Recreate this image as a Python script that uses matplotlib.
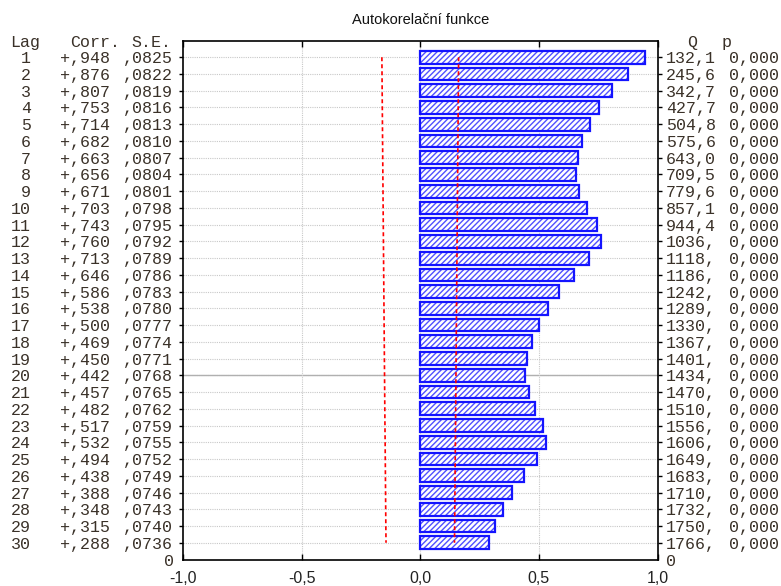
import matplotlib
matplotlib.use("Agg")
import matplotlib.pyplot as plt
import matplotlib.transforms as mtransforms
import numpy as np

# Autocorrelation results per lag
lags = list(range(1, 31))
corr = [0.948, 0.876, 0.807, 0.753, 0.714, 0.682, 0.663, 0.656, 0.671, 0.703,
        0.743, 0.760, 0.713, 0.646, 0.586, 0.538, 0.500, 0.469, 0.450, 0.442,
        0.457, 0.482, 0.517, 0.532, 0.494, 0.438, 0.388, 0.348, 0.315, 0.288]
se = [0.0825, 0.0822, 0.0819, 0.0816, 0.0813, 0.0810, 0.0807, 0.0804, 0.0801, 0.0798,
      0.0795, 0.0792, 0.0789, 0.0786, 0.0783, 0.0780, 0.0777, 0.0774, 0.0771, 0.0768,
      0.0765, 0.0762, 0.0759, 0.0755, 0.0752, 0.0749, 0.0746, 0.0743, 0.0740, 0.0736]
q_stat = [132.1, 245.6, 342.7, 427.7, 504.8, 575.6, 643.0, 709.5, 779.6, 857.1,
          944.4, 1036, 1118, 1186, 1242, 1289, 1330, 1367, 1401, 1434,
          1470, 1510, 1556, 1606, 1649, 1683, 1710, 1732, 1750, 1766]
p_val = [0.0] * 30
x_ticks = [-1.0, -0.5, 0.0, 0.5, 1.0]

W, H = 781, 586
fig = plt.figure(figsize=(W / 100, H / 100), dpi=100)
ax = fig.add_axes([183 / W, 1 - 559.5 / H, 474.5 / W, 519 / H])

n = len(lags)
pos = np.array([n + 1 - k for k in lags])  # lag 1 at the top

ax.set_xlim(-1.0, 1.0)
ax.set_ylim(0, n + 1)

# grid
for yy in pos:
    ax.axhline(yy, color="#c8c8c8", lw=0.8, ls=(0, (1, 1)), zorder=0)
ax.axhline(n + 1 - 20, color="#b0b0b0", lw=1.0, zorder=0)
for xx in [-0.5, 0.0, 0.5]:
    ax.axvline(xx, color="#c8c8c8", lw=0.8, ls=(0, (1, 1)), zorder=0)

# hatched bars, then their outlines
plt.rcParams["hatch.linewidth"] = 1.0
ax.barh(pos, corr, height=0.76, left=0, color="white", edgecolor="#5050ff",
        hatch="//////", lw=0, zorder=2)
ax.barh(pos, corr, height=0.76, left=0, fill=False, edgecolor="#1414ff",
        lw=1.6, zorder=3)

# confidence limits
lim = 1.96 * np.array(se)
ax.plot(lim, pos, color="#ff0000", lw=1.2, ls=(0, (2.4, 1.8)), zorder=4)
ax.plot(-lim, pos, color="#ff0000", lw=1.2, ls=(0, (2.4, 1.8)), zorder=4)

# axes styling
for s in ax.spines.values():
    s.set_color("#000000")
    s.set_linewidth(1.2)
ax.set_xticks(x_ticks)
ax.set_xticklabels([f"{v:.1f}".replace(".", ",") for v in x_ticks],
                   fontfamily="Liberation Sans", fontsize=11.5, color="#222222")
ax.tick_params(axis="x", which="both", direction="in", top=True, bottom=True,
               length=4, width=1, pad=8)
ax.set_yticks(list(pos))
ax.set_yticklabels([])
ax.tick_params(axis="y", which="both", direction="out", left=True, right=True,
               length=3, width=1)

ax.set_title("Autokorelační funkce", fontfamily="Liberation Sans", fontsize=10.5,
             color="#111111", pad=12)

# text columns
tc = "#3a3128"
mono = dict(fontfamily="Liberation Mono", fontsize=12, color=tc, va="center_baseline")
tr = mtransforms.blended_transform_factory(fig.transFigure, ax.transData)
for label, xpx in [("Lag", 10), ("Corr.", 70), ("S.E.", 131), ("Q", 687), ("p", 722)]:
    fig.text(xpx / W, 1 - 41 / H, label, ha="left", **mono)

for k, c, s, q, pv, yy in zip(lags, corr, se, q_stat, p_val, pos):
    ax.text(31 / W, yy, f"{k}", ha="right", transform=tr, **mono)
    ax.text(60 / W, yy, "+" + f"{c:.3f}"[1:].replace(".", ","), ha="left",
            transform=tr, **mono)
    ax.text(123 / W, yy, f"{s:.4f}"[1:].replace(".", ","), ha="left",
            transform=tr, **mono)
    qs = f"{q:.1f}".replace(".", ",") if q < 1000 else f"{q:.0f},"
    ax.text(666 / W, yy, qs, ha="left", transform=tr, **mono)
    ax.text(729 / W, yy, f"{pv:.3f}".replace(".", ","), ha="left",
            transform=tr, **mono)

ax.text(174 / W, 0, "0", ha="right", transform=tr, **mono)
ax.text(666 / W, 0, "0", ha="left", transform=tr, **mono)

fig.savefig("out.png", dpi=100, facecolor="white")
